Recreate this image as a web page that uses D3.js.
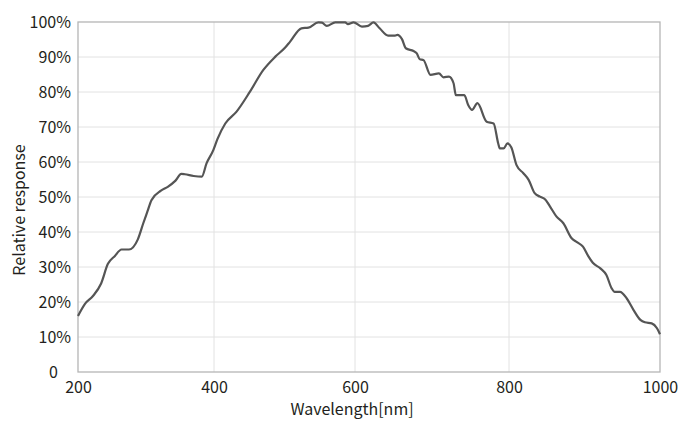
<!DOCTYPE html>
<html><head><meta charset="utf-8">
<script src="https://cdn.jsdelivr.net/npm/d3@7"></script>
<style>
html,body{margin:0;padding:0;background:#fff;}
text{font-family:"Noto Sans CJK JP","Noto Sans",sans-serif;fill:#231f20;}
</style></head>
<body><svg id="c" width="690" height="428"></svg>
<script>
const wavelengths = [200,210,222,234,244,254,264,275,288,296,302,308,322,332,343,352,357,370,382,389,399,
405,416,432,451,470,487,501,508,524,534,548,553,560,572,586,590,598,
609,617,624,632,643,652,655,661,666,676,680,684,689,698,709,715,722,728,731,742,747,752,759,771,780,786,788,793,798,
803,810,819,826,834,841,848,854,863,872,883,890,898,905,911,921,929,936,940,947,956,965,974,980,989,996,1000];
const response = [16.0,19.4,21.7,25.3,30.9,33.1,35.0,35.0,37.9,42.5,45.8,49.1,51.8,52.9,54.6,56.6,56.5,56.0,55.8,59.6,63.4,
66.6,71.0,74.4,80.1,86.3,90.1,92.7,94.4,98.2,98.4,99.9,99.8,98.9,99.9,99.9,99.4,99.9,
98.7,98.9,99.9,98.2,96.1,96.1,96.3,95.1,92.5,91.7,91.1,89.4,89.1,84.9,85.3,84.2,84.4,82.5,79.1,79.1,76.3,74.9,76.8,71.5,71.0,65.3,63.9,63.9,65.3,
64.2,59.1,56.8,54.9,51.1,50.1,49.3,47.4,44.4,42.5,38.2,37.1,35.8,33.1,31.2,29.6,27.7,23.9,22.9,22.9,21.0,17.7,14.9,14.2,13.9,12.5,10.8];
const xTicks = [200,400,600,800,1000];
const yTicks = [0,10,20,30,40,50,60,70,80,90,100];
const yTickLabels = ["0","10%","20%","30%","40%","50%","60%","70%","80%","90%","100%"];
const xTitle = "Wavelength[nm]";
const yTitle = "Relative response";

const svg = d3.select("#c");
const L = 78, R = 660, T = 22, B = 372;
const FONT = '"Noto Sans CJK JP","Noto Sans",sans-serif';
// The original axis spacing is not uniform; piecewise scale reproduces it
const x = d3.scaleLinear().domain(xTicks).range([78,214,355,509,660]);
const y = d3.scaleLinear().domain([0,100]).range([B,T]);

// grid
svg.append("g").selectAll("line").data(yTicks.slice(1,-1)).join("line")
  .attr("x1",L).attr("x2",R).attr("y1",d=>y(d)).attr("y2",d=>y(d))
  .attr("stroke","#e2e2e2").attr("stroke-width",1);
svg.append("g").selectAll("line").data(xTicks.slice(1,-1)).join("line")
  .attr("y1",T).attr("y2",B).attr("x1",d=>x(d)).attr("x2",d=>x(d))
  .attr("stroke","#e2e2e2").attr("stroke-width",1);
// frame
svg.append("rect").attr("x",L).attr("y",T).attr("width",R-L).attr("height",B-T)
  .attr("fill","none").attr("stroke","#b5b5b5").attr("stroke-width",1.3);

// axes labels
const ya = d3.axisLeft(y).tickValues(yTicks).tickFormat((d,i)=>yTickLabels[i]).tickSize(0).tickPadding(7);
const gy = svg.append("g").attr("transform",`translate(${L},0)`).call(ya);
gy.select(".domain").remove();
gy.selectAll("text").attr("font-size",16).attr("fill","#231f20").style("font-family",FONT)
  .attr("dx", d => d===0 ? -13 : 0);
const xa = d3.axisBottom(x).tickValues(xTicks).tickFormat(d3.format("d")).tickSize(0).tickPadding(10);
const gx = svg.append("g").attr("transform",`translate(0,${B})`).call(xa);
gx.select(".domain").remove();
gx.selectAll("text").attr("font-size",16).attr("fill","#231f20").style("font-family",FONT);

svg.append("text").attr("x",352).attr("y",415).attr("text-anchor","middle")
  .attr("font-size",16).text(xTitle);
svg.append("text").attr("transform","translate(25,210) rotate(-90)").attr("text-anchor","middle")
  .attr("font-size",16).text(yTitle);

const data = wavelengths.map((w,i)=>({w, v:response[i]}));
svg.append("path").datum(data)
  .attr("fill","none").attr("stroke","#555").attr("stroke-width",2.2)
  .attr("stroke-linejoin","round")
  .attr("d", d3.line().x(d=>x(d.w)).y(d=>y(d.v)).curve(d3.curveMonotoneX));
</script></body></html>
